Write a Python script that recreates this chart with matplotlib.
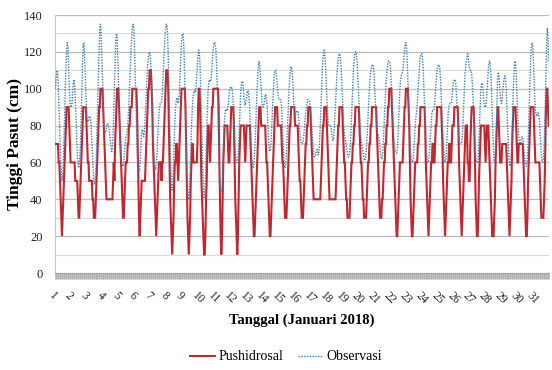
import numpy as np
import matplotlib
matplotlib.use("Agg")
import matplotlib.pyplot as plt
from matplotlib.lines import Line2D
from matplotlib.ticker import FixedLocator, MultipleLocator

plt.rcParams['font.family'] = ['Liberation Serif', 'DejaVu Serif']

# Hourly tide heights (cm), January 2018 (31 days x 24 hours)
pushidrosal = [
    70,70,70,70,70,60,60,50,40,30,20,30,40,50,60,70,80,90,90,90,90,80,70,60,
    60,60,60,60,60,60,50,50,50,50,40,30,30,40,50,60,70,80,90,90,90,90,90,80,
    70,60,60,50,50,50,50,50,40,40,30,30,30,40,50,60,70,80,90,90,100,100,100,100,
    90,80,70,60,50,40,40,40,40,40,40,40,40,40,40,50,60,50,70,80,90,100,100,100,
    90,80,70,60,50,40,30,30,40,50,60,60,60,70,70,80,80,90,90,90,100,100,100,100,
    100,100,100,90,70,50,30,20,30,40,50,50,50,50,50,50,60,70,80,90,100,100,110,110,
    110,100,90,70,60,50,40,30,20,30,40,50,60,60,60,60,50,60,60,70,80,90,100,110,
    110,110,100,80,60,40,30,20,10,20,30,50,60,60,70,70,60,50,60,70,80,90,100,100,
    100,100,100,100,90,70,50,30,20,10,20,30,50,60,70,70,60,60,60,60,60,60,70,90,
    100,100,90,70,50,40,30,20,10,10,20,40,50,70,80,80,70,60,70,80,90,90,100,100,
    100,100,100,100,100,100,90,60,40,20,10,20,40,60,70,80,80,80,80,80,70,60,60,70,
    80,90,90,90,90,80,60,40,30,20,10,20,40,60,70,80,80,80,80,80,80,70,60,70,
    80,80,80,80,80,80,70,60,50,40,30,20,20,30,40,50,60,70,80,90,90,90,80,80,
    80,80,80,80,80,70,60,60,50,40,30,20,20,30,40,50,60,70,80,90,90,90,90,80,
    80,80,80,80,80,70,60,60,50,40,30,30,30,40,50,60,70,80,80,90,90,90,90,90,
    90,80,80,80,80,80,70,60,50,50,40,30,30,30,40,50,60,70,70,80,80,90,90,90,
    90,80,70,60,50,40,40,40,40,40,40,40,40,40,40,40,50,60,70,80,80,90,90,90,
    90,80,70,60,50,40,40,40,40,40,40,40,40,40,40,50,60,70,80,80,90,90,90,90,
    90,80,70,60,60,50,40,40,30,30,30,30,40,50,60,60,70,70,80,80,90,90,90,90,
    90,90,80,70,60,60,50,40,40,30,30,30,30,40,50,60,60,70,70,80,80,90,90,90,
    90,90,90,90,80,70,60,50,40,30,30,30,40,40,50,60,60,70,70,80,80,90,90,100,
    100,100,100,90,80,70,60,50,40,30,20,20,30,40,50,60,60,60,60,60,70,80,90,90,
    100,100,100,100,90,80,60,40,30,20,20,30,40,50,60,60,60,60,70,70,80,80,90,90,
    90,90,90,90,90,80,60,50,40,30,20,30,40,50,60,60,70,70,60,60,70,80,80,90,
    90,90,90,90,90,90,80,70,50,40,30,20,30,40,50,60,60,70,70,60,60,70,80,80,
    80,90,90,90,90,90,90,80,60,50,40,30,20,30,40,50,60,70,80,80,80,60,60,50,
    50,70,80,90,90,90,90,80,60,40,30,20,20,30,50,60,70,80,80,80,80,80,80,70,
    60,70,80,80,80,70,60,50,40,30,20,20,20,30,40,60,70,80,90,90,80,70,60,60,
    60,70,70,70,70,70,70,70,60,50,40,30,20,30,40,50,70,80,90,90,90,90,80,70,
    60,60,70,70,70,70,70,70,70,60,50,40,30,20,20,30,50,60,70,80,90,90,90,90,
    90,80,70,60,60,60,60,60,60,60,50,40,30,30,30,30,40,50,70,90,100,100,90,80,
]

observasi = [
    100,105,108,110,105,95,85,72,62,55,50,52,60,72,85,100,112,122,125,122,112,100,93,90,
    90,92,98,103,105,102,95,85,75,66,60,57,58,63,72,85,100,115,124,125,118,108,97,88,
    83,82,83,85,85,84,80,72,63,55,50,48,50,56,66,80,95,110,123,132,135,130,118,104,
    92,82,77,76,77,79,81,81,80,78,75,71,68,66,68,75,88,102,116,126,130,128,118,104,
    90,78,68,62,60,58,58,60,65,70,73,74,76,80,86,94,103,112,121,128,133,135,133,125,
    112,97,83,70,61,56,55,56,62,70,76,78,76,74,76,82,90,98,106,113,117,119,120,118,
    112,102,90,78,68,61,57,56,58,64,72,80,86,90,92,92,93,97,104,112,120,127,132,135,
    135,130,118,102,85,68,55,46,45,50,60,72,82,89,93,95,94,92,94,100,108,117,125,129,
    130,127,118,104,88,72,58,47,41,40,45,55,67,78,87,93,97,99,99,98,101,107,114,119,
    121,119,112,100,86,71,57,46,41,42,50,62,76,89,98,103,105,104,104,107,112,118,122,125,
    125,124,120,112,100,86,71,58,49,45,44,46,54,65,76,84,88,89,88,88,90,94,98,100,
    101,101,100,97,92,84,75,67,62,60,60,62,68,77,87,96,102,104,104,101,96,92,91,93,
    95,98,99,98,94,87,78,69,62,58,57,59,64,72,82,92,101,109,114,115,112,106,99,94,
    91,90,91,93,96,97,95,90,82,74,68,66,67,72,80,89,97,104,108,110,110,108,103,98,
    95,94,94,94,93,88,80,71,63,58,57,59,65,73,82,91,99,106,110,112,111,107,100,93,
    88,86,86,87,88,88,86,82,77,73,71,70,70,71,74,78,83,87,90,92,94,94,94,93,
    90,85,79,73,68,65,63,63,64,66,67,66,64,66,72,80,90,100,109,116,120,121,118,112,
    104,95,87,82,80,80,80,79,77,74,72,73,77,84,92,100,107,112,116,118,119,118,114,107,
    99,90,82,77,74,72,70,67,65,63,63,64,68,75,84,93,102,110,116,119,120,120,117,111,
    103,94,86,79,74,71,69,67,64,62,61,62,65,70,77,85,93,100,105,109,111,113,113,112,
    108,101,93,85,79,76,75,74,72,68,64,62,62,65,71,79,88,96,103,108,112,114,115,115,
    114,110,103,95,87,79,72,68,66,65,65,67,73,82,92,100,105,107,108,109,112,117,121,124,
    125,122,115,105,94,83,73,66,62,60,60,62,67,74,80,84,87,91,97,104,110,115,118,119,
    119,117,111,102,92,82,73,66,62,60,60,63,69,76,82,86,88,88,88,90,95,102,107,110,
    112,113,113,111,106,98,89,80,72,66,62,60,61,66,74,82,88,91,92,92,92,94,98,102,
    104,105,105,103,98,91,83,76,72,70,70,70,71,75,82,91,100,108,112,115,117,119,117,113,
    111,110,110,108,103,95,86,77,69,64,61,60,60,64,72,82,92,100,103,103,100,95,91,90,
    90,92,97,104,110,114,115,113,107,98,87,76,66,60,60,66,78,92,104,109,108,103,97,93,
    92,95,99,103,106,107,106,100,91,81,71,63,59,58,60,67,78,91,103,111,115,114,108,99,
    89,80,74,71,70,71,73,74,73,70,66,62,59,58,58,62,70,82,96,108,117,123,125,123,
    116,106,96,89,86,85,86,87,86,83,77,70,64,61,60,62,68,80,95,110,124,133,128,115,
]

day_labels = [str(d) for d in range(1, 32)]
y_ticks = [0, 20, 40, 60, 80, 100, 120, 140]

RED = '#c1272d'
BLUE = '#3d7fb6'

W, H = 552, 370
fig = plt.figure(figsize=(W / 100, H / 100), dpi=100)
ax = fig.add_axes([55 / W, 1 - 273 / H, (549 - 55) / W, (273 - 15) / H])

hours = np.arange(len(pushidrosal))
ax.plot(hours, pushidrosal, color=RED, lw=1.5, zorder=3, solid_joinstyle='miter')
ax.plot(hours, observasi, color=BLUE, lw=1.0, ls=(0, (1, 1)), zorder=4)

ax.set_xlim(-0.5, len(hours) - 0.5)
ax.set_ylim(0, 140)

ax.set_yticks(y_ticks)
ax.set_yticklabels([str(t) for t in y_ticks], fontsize=9)
ax.yaxis.set_minor_locator(MultipleLocator(10))
ax.grid(axis='y', which='major', color='#bdbdbd', lw=0.9)
ax.grid(axis='y', which='minor', color='#dadada', lw=0.8)
ax.set_axisbelow(True)
ax.tick_params(axis='y', which='both', length=0, pad=9, labelcolor='#222222')

# x axis: hourly category ticks, day labels
ax.xaxis.set_major_locator(FixedLocator([-0.5 + 24 * k for k in range(31)]))
ax.set_xticklabels(day_labels, fontsize=8.5, rotation=-45, ha='left', va='top',
                   rotation_mode='anchor', color='#222222')
ax.xaxis.set_minor_locator(FixedLocator(np.arange(-0.5, len(hours), 1.0)))
ax.tick_params(axis='x', which='major', length=4, width=0.5, color='#a8a8a8', pad=8)
ax.tick_params(axis='x', which='minor', length=4, width=0.5, color='#a8a8a8')

for s in ['top', 'right']:
    ax.spines[s].set_visible(False)
ax.spines['left'].set_color('#c8c8c8')
ax.spines['bottom'].set_color('#a8a8a8')

fig.text(15 / W, 1 - 144 / H, 'Tinggi Pasut (cm)', rotation=90, ha='center',
         va='center', fontsize=12.5, fontweight='bold')
fig.text(302 / W, 1 - 320 / H, 'Tanggal (Januari 2018)', ha='center', va='center',
         fontsize=10.5, fontweight='bold')

handles = [Line2D([], [], color=RED, lw=1.5),
           Line2D([], [], color=BLUE, lw=1.0, ls=(0, (1, 1)))]
fig.legend(handles, ['Pushidrosal', 'Observasi'], loc='center',
           bbox_to_anchor=(286 / W, 1 - 357 / H), ncol=2, frameon=False,
           fontsize=10, handlelength=1.8, handletextpad=0.3, columnspacing=1.0)

fig.savefig('out.png', dpi=100)
